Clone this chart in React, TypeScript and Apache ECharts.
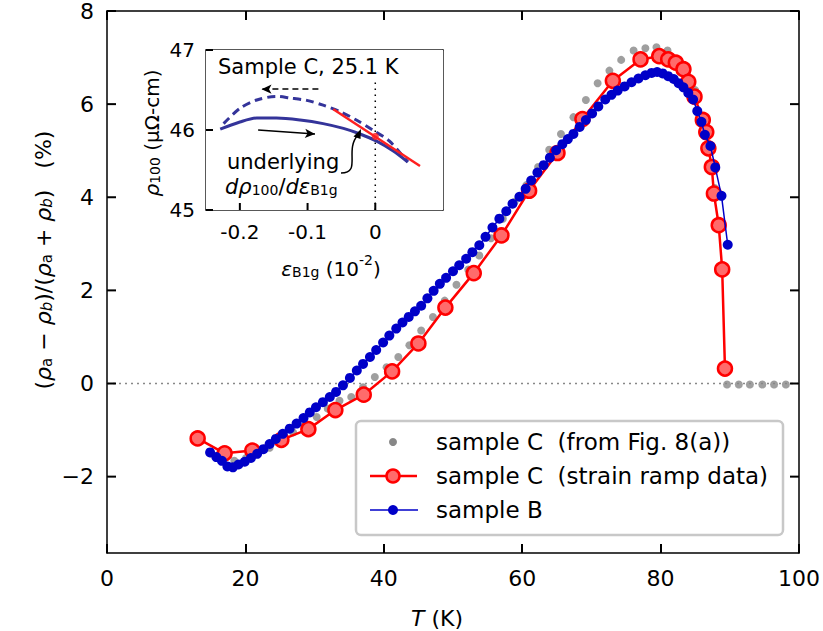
import React, { useEffect, useRef } from "react";
import * as echarts from "echarts";

const FONT = "DejaVu Sans";

// ---- axes ticks ----
const xTicks = [0, 20, 40, 60, 80, 100];
const yTicks = [-2, 0, 2, 4, 6, 8];
const insetXTicks = [-0.2, -0.1, 0];
const insetYTicks = [45, 46, 47];

// ---- main data: T (K), anisotropy (%) ----
const sampleCFig8: [number, number][] = [
  [15.0, -1.5], [16.7, -1.62], [18.4, -1.66], [20.1, -1.6], [21.8, -1.5], [23.5, -1.38],
  [25.2, -1.22], [26.9, -1.05], [28.6, -0.9], [30.3, -0.72], [31.9, -0.54], [33.6, -0.37],
  [35.3, -0.29], [37.0, -0.08], [38.7, 0.14], [40.4, 0.35], [42.1, 0.57], [43.7, 0.82],
  [45.4, 1.14], [47.1, 1.43], [48.8, 1.78], [50.5, 2.12], [52.2, 2.45], [53.8, 2.75],
  [55.5, 3.12], [57.2, 3.54], [58.9, 3.9], [60.6, 4.26], [62.3, 4.65], [63.9, 5.02],
  [65.6, 5.36], [67.4, 5.72], [69.2, 6.09], [70.9, 6.45], [72.6, 6.72], [74.3, 6.95],
  [76.1, 7.15], [77.8, 7.2], [79.4, 7.22], [81.0, 7.15], [82.5, 6.95], [83.8, 6.7],
  [85.0, 6.3], [86.0, 5.7], [87.0, 5.0], [87.8, 4.2],
  [89.6, -0.02], [91.3, -0.02], [92.9, -0.02], [94.7, -0.02], [96.4, -0.02], [98.1, -0.02],
];

const sampleCRamp: [number, number][] = [
  [13.1, -1.18], [17.0, -1.5], [21.0, -1.44], [25.2, -1.21], [29.1, -0.98], [33.0, -0.57],
  [37.1, -0.24], [41.2, 0.26], [45.0, 0.86], [48.9, 1.63], [53.0, 2.37], [57.0, 3.18],
  [61.0, 4.14], [65.1, 4.95], [68.7, 5.68], [73.1, 6.5], [77.1, 6.96], [79.8, 7.03],
  [81.1, 6.96], [82.2, 6.89], [83.3, 6.75], [84.0, 6.48], [84.9, 6.16], [86.1, 5.66],
  [86.6, 5.4], [86.9, 5.05], [87.4, 4.65], [87.7, 4.08], [88.4, 3.4], [88.9, 2.45],
  [89.3, 0.32],
];

const sampleB: [number, number][] = [
  [14.9, -1.48], [15.8, -1.58], [16.6, -1.66], [17.4, -1.78], [18.2, -1.8], [19.0, -1.74],
  [19.9, -1.68], [20.8, -1.6], [21.7, -1.51], [22.6, -1.41], [23.5, -1.3], [24.4, -1.19],
  [25.4, -1.08], [26.4, -0.97], [27.4, -0.86], [28.4, -0.74], [29.3, -0.62], [30.2, -0.51],
  [31.2, -0.4], [32.2, -0.29], [33.1, -0.18], [34.1, -0.04], [35.1, 0.12], [36.1, 0.28],
  [37.0, 0.42], [38.0, 0.57], [38.9, 0.72], [39.9, 0.88], [40.8, 1.03], [41.8, 1.18],
  [42.7, 1.31], [43.6, 1.43], [44.5, 1.55], [45.4, 1.67], [46.3, 1.83], [47.2, 1.99],
  [48.1, 2.14], [49.0, 2.27], [50.0, 2.41], [50.9, 2.54], [51.9, 2.68], [52.8, 2.82],
  [53.8, 2.97], [54.7, 3.15], [55.7, 3.35], [56.7, 3.54], [57.7, 3.7], [58.6, 3.86],
  [59.6, 4.01], [60.5, 4.18], [61.3, 4.36], [62.2, 4.53], [63.1, 4.69], [64.0, 4.85],
  [64.9, 5.01], [65.8, 5.14], [66.6, 5.25], [67.4, 5.36], [68.3, 5.51], [69.2, 5.66],
  [70.1, 5.8], [71.0, 5.95], [72.0, 6.1], [72.9, 6.2], [73.8, 6.29], [74.8, 6.38],
  [75.8, 6.47], [76.8, 6.55], [77.8, 6.62], [78.7, 6.67], [79.5, 6.69], [80.3, 6.66],
  [81.1, 6.6], [81.9, 6.54], [82.6, 6.45], [83.3, 6.36], [84.0, 6.24], [84.7, 6.1],
  [85.3, 5.85], [85.9, 5.62], [86.4, 5.34], [87.2, 5.1], [87.9, 4.64], [88.8, 4.03],
  [89.7, 2.98],
];

const zeroLine: [number, number][] = [[0, 0], [100, 0]];

// ---- inset data: strain (1e-2), rho100 (µΩ-cm) ----
const insetDashed: [number, number][] = [
  [-0.224, 46.08], [-0.2, 46.27], [-0.175, 46.375], [-0.146, 46.42], [-0.126, 46.4],
  [-0.101, 46.37], [-0.077, 46.31], [-0.052, 46.23], [-0.028, 46.125], [-0.004, 46.0],
  [0.021, 45.86], [0.048, 45.6],
];
const insetSolid: [number, number][] = [
  [-0.229, 46.01], [-0.2, 46.1], [-0.175, 46.15], [-0.146, 46.15], [-0.111, 46.125],
  [-0.077, 46.08], [-0.047, 46.02], [-0.0225, 45.95], [0.002, 45.86], [0.026, 45.74],
  [0.048, 45.6],
];
const insetTangent: [number, number][] = [[-0.062, 46.26], [0.066, 45.55]];
const insetPoint: [number, number][] = [[0, 45.92]];
const insetZeroStrain: [number, number][] = [[0, 45], [0, 46.6]];

const legendLabels = [
  "sample C  (from Fig. 8(a))",
  "sample C  (strain ramp data)",
  "sample B",
];

const minus = (v: number) => String(v).replace("-", "\u2212");

export default function App() {
  const ref = useRef<HTMLDivElement>(null);

  useEffect(() => {
    if (!ref.current) return;
    const chart = echarts.init(ref.current, undefined, { renderer: "svg" });

    const lbl = { color: "#000", fontFamily: FONT };
    const frameLine = { show: true, onZero: false, lineStyle: { color: "#000", width: 1.5 } };
    const insetLine = { show: true, onZero: false, lineStyle: { color: "#222", width: 1.5 } };
    const nativeTick = { show: true, inside: true, length: 9, lineStyle: { color: "#000", width: 2 } };

    const big = { fontFamily: FONT, fontSize: 22, lineHeight: 28, verticalAlign: "bottom", color: "#000" };
    const bigI = { ...big, fontStyle: "italic" };
    const sub = { fontFamily: FONT, fontSize: 15, lineHeight: 16, verticalAlign: "bottom", color: "#000" };
    const subI = { ...sub, fontStyle: "italic" };

    const med = { fontFamily: FONT, fontSize: 20, lineHeight: 26, verticalAlign: "bottom", color: "#000" };
    const medI = { ...med, fontStyle: "italic" };
    const msub = { fontFamily: FONT, fontSize: 14, lineHeight: 14, verticalAlign: "bottom", color: "#000" };
    const msubTop = { fontFamily: FONT, fontSize: 14, lineHeight: 14, verticalAlign: "top", color: "#000" };

    const graphicBase: any[] = [
      {
        type: "text", x: 40, y: 260, rotation: Math.PI / 2, z: 20,
        style: {
          text: "{n|(}{i|ρ}{s|a}{n| − }{i|ρ}{si|b}{n|)/(}{i|ρ}{s|a}{n| + }{i|ρ}{si|b}{n|)   (%)}",
          align: "center", verticalAlign: "middle",
          rich: { n: big, i: bigI, s: sub, si: subI },
        },
      },
      {
        type: "text", x: 437, y: 615, z: 20,
        style: { text: "{i|T}{n| (K)}", align: "center", verticalAlign: "middle", rich: { n: big, i: bigI } },
      },
      {
        type: "text", x: 149, y: 133, rotation: Math.PI / 2, z: 20,
        style: {
          text: "{i|ρ}{s|100}{n| (μΩ-cm)}", align: "center", verticalAlign: "middle",
          rich: { n: med, i: medI, s: msub },
        },
      },
      {
        type: "text", x: 331, y: 266, z: 20,
        style: {
          text: "{i|ε}{s|B1g}{n| (10}{p|-2}{n|)}", align: "center", verticalAlign: "middle",
          rich: { n: med, i: medI, s: msub, p: msubTop },
        },
      },
      {
        type: "text", x: 218, y: 67, z: 20,
        style: { text: "Sample C, 25.1 K", fontFamily: FONT, fontSize: 21, fill: "#000", align: "left", verticalAlign: "middle" },
      },
      {
        type: "text", x: 227, y: 162, z: 20,
        style: { text: "underlying", fontFamily: FONT, fontSize: 21, fill: "#000", align: "left", verticalAlign: "middle" },
      },
      {
        type: "text", x: 225, y: 184, z: 20,
        style: {
          text: "{i|dρ}{s|100}{n|/}{i|dε}{s|B1g}", align: "left", verticalAlign: "middle",
          rich: { n: { ...med, fontSize: 21 }, i: { ...medI, fontSize: 21 }, s: msub },
        },
      },
      {
        type: "bezierCurve", z: 20,
        shape: { x1: 341, y1: 173, cpx1: 362, cpy1: 173, cpx2: 344, cpy2: 150, x2: 358, y2: 135 },
        style: { stroke: "#000", lineWidth: 1.5, fill: null },
      },
      {
        type: "polygon", z: 20,
        shape: { points: [[361, 129], [353.5, 136.5], [360.5, 139]] },
        style: { fill: "#000" },
      },
      {
        type: "rect", z: 30,
        shape: { x: 356, y: 421, width: 427, height: 114, r: 5 },
        style: { fill: "#fff", stroke: "#c8c8c8", lineWidth: 2.5 },
      },
      { type: "circle", z: 31, shape: { cx: 393, cy: 442, r: 4 }, style: { fill: "#878787" } },
      { type: "line", z: 31, shape: { x1: 370, y1: 476, x2: 417, y2: 476 }, style: { stroke: "#ff0000", lineWidth: 2.5 } },
      { type: "circle", z: 32, shape: { cx: 393, cy: 476, r: 6.5 }, style: { fill: "#ff6b6b", stroke: "#ff0000", lineWidth: 2.5 } },
      { type: "line", z: 31, shape: { x1: 370, y1: 510, x2: 418, y2: 510 }, style: { stroke: "#0000c8", lineWidth: 1.5 } },
      { type: "circle", z: 32, shape: { cx: 393, cy: 510, r: 5 }, style: { fill: "#0000c8" } },
      ...legendLabels.map((t, i) => ({
        type: "text", z: 32, x: 436, y: 442 + i * 34,
        style: { text: t, fontFamily: FONT, fontSize: 23, fill: "#000", align: "left", verticalAlign: "middle" },
      })),
    ];

    const option: any = {
      animation: false,
      backgroundColor: "#fff",
      grid: [
        { left: 107, right: 23, top: 10, bottom: 78 },
        { left: 206, top: 50, width: 237, height: 160, show: true, borderWidth: 0, backgroundColor: "#fff", z: 5 },
      ],
      xAxis: [
        {
          gridIndex: 0, type: "value", position: "bottom", min: 0, max: 100, interval: 20,
          axisLine: frameLine, splitLine: { show: false }, axisTick: nativeTick,
          axisLabel: { ...lbl, fontSize: 22, margin: 14 },
        },
        {
          gridIndex: 0, type: "value", position: "top", min: 0, max: 100, interval: 20,
          axisLine: frameLine, splitLine: { show: false }, axisTick: nativeTick,
          axisLabel: { show: false },
        },
        {
          gridIndex: 1, type: "value", position: "bottom", min: -0.25, max: 0.1,
          axisLine: insetLine, splitLine: { show: false }, axisTick: { show: false },
          axisLabel: {
            ...lbl, fontSize: 20, margin: 12, customValues: insetXTicks,
            formatter: (v: number) => (Math.abs(v) < 1e-9 ? "0" : v.toFixed(1)),
          },
        },
        {
          gridIndex: 1, type: "value", position: "top", min: -0.25, max: 0.1,
          axisLine: insetLine, splitLine: { show: false },
          axisTick: { show: false }, axisLabel: { show: false },
        },
      ],
      yAxis: [
        {
          gridIndex: 0, type: "value", position: "left", min: -3.64, max: 8,
          axisLine: frameLine, splitLine: { show: false }, axisTick: { show: false },
          axisLabel: { ...lbl, fontSize: 22, margin: 13, customValues: yTicks, formatter: minus },
        },
        {
          gridIndex: 0, type: "value", position: "right", min: -3.64, max: 8,
          axisLine: frameLine, splitLine: { show: false },
          axisTick: { show: false }, axisLabel: { show: false },
        },
        {
          gridIndex: 1, type: "value", position: "left", min: 45, max: 47, interval: 1,
          axisLine: insetLine, splitLine: { show: false },
          axisTick: { ...nativeTick, length: 7 },
          axisLabel: { ...lbl, fontSize: 20, margin: 11 },
        },
        {
          gridIndex: 1, type: "value", position: "right", min: 45, max: 47, interval: 1,
          axisLine: insetLine, splitLine: { show: false },
          axisTick: { show: false }, axisLabel: { show: false },
        },
      ],
      series: [
        {
          type: "line", xAxisIndex: 0, yAxisIndex: 0, data: zeroLine, symbol: "none", silent: true, z: 2,
          lineStyle: { color: "#888", width: 1.5, type: [2, 4] },
        },
        {
          name: legendLabels[0], type: "scatter", xAxisIndex: 0, yAxisIndex: 0, data: sampleCFig8,
          symbolSize: 8, itemStyle: { color: "#878787" }, z: 3,
        },
        {
          name: legendLabels[1], type: "line", xAxisIndex: 0, yAxisIndex: 0, data: sampleCRamp,
          symbol: "circle", symbolSize: 14, showAllSymbol: true, z: 4,
          lineStyle: { color: "#ff0000", width: 2.5 },
          itemStyle: { color: "#ff6b6b", borderColor: "#ff0000", borderWidth: 2.5 },
        },
        {
          name: legendLabels[2], type: "line", xAxisIndex: 0, yAxisIndex: 0, data: sampleB,
          symbol: "circle", symbolSize: 10, showAllSymbol: true, z: 5,
          lineStyle: { color: "#0000c8", width: 1.5 },
          itemStyle: { color: "#0000c8" },
        },
        {
          type: "line", xAxisIndex: 2, yAxisIndex: 2, data: insetZeroStrain, symbol: "none", silent: true, z: 6,
          lineStyle: { color: "#000", width: 1.5, type: [1.5, 4.5] },
          markLine: {
            silent: true, symbol: ["none", "arrow"], symbolSize: [7, 10], label: { show: false },
            data: [
              [
                { coord: [-0.084, 46.51], lineStyle: { color: "#000", width: 1.5, type: [6, 4] } },
                { coord: [-0.168, 46.51], lineStyle: { color: "#000", width: 1.5, type: [6, 4] } },
              ],
              [
                { coord: [-0.173, 46.0], lineStyle: { color: "#000", width: 1.5, type: "solid" } },
                { coord: [-0.089, 45.95], lineStyle: { color: "#000", width: 1.5, type: "solid" } },
              ],
            ],
          },
        },
        {
          type: "line", xAxisIndex: 2, yAxisIndex: 2, data: insetDashed, symbol: "none", smooth: 0.3, z: 7,
          lineStyle: { color: "#34349a", width: 3, type: [8, 5] },
        },
        {
          type: "line", xAxisIndex: 2, yAxisIndex: 2, data: insetSolid, symbol: "none", smooth: 0.3, z: 7,
          lineStyle: { color: "#34349a", width: 3 },
        },
        {
          type: "line", xAxisIndex: 2, yAxisIndex: 2, data: insetTangent, symbol: "none", z: 8,
          lineStyle: { color: "#ff2020", width: 2.5 },
        },
        {
          type: "scatter", xAxisIndex: 2, yAxisIndex: 2, data: insetPoint, symbolSize: 7, z: 9,
          itemStyle: { color: "#ff2020" },
        },
      ],
      graphic: graphicBase,
    };

    chart.setOption(option);

    // extra tick marks positioned through the axes' own scales
    try {
      const mainFinder = { xAxisIndex: 0, yAxisIndex: 0 };
      const insetFinder = { xAxisIndex: 2, yAxisIndex: 2 };
      const tick = (x1: number, y1: number, x2: number, y2: number) => ({
        type: "line", z: 40, silent: true,
        shape: { x1, y1, x2, y2 },
        style: { stroke: "#000", lineWidth: 2 },
      });
      const ticks: any[] = [];
      yTicks.forEach((v) => {
        const l = chart.convertToPixel(mainFinder, [0, v]) as number[];
        const r = chart.convertToPixel(mainFinder, [100, v]) as number[];
        if (!l || !r) return;
        ticks.push(tick(l[0], l[1], l[0] + 9, l[1]));
        ticks.push(tick(r[0], r[1], r[0] - 9, r[1]));
      });
      insetXTicks.forEach((v) => {
        const b = chart.convertToPixel(insetFinder, [v, 45]) as number[];
        if (!b) return;
        ticks.push(tick(b[0], b[1], b[0], b[1] - 7));
      });
      insetYTicks.forEach((v) => {
        const l = chart.convertToPixel(insetFinder, [-0.25, v]) as number[];
        if (!l) return;
        ticks.push(tick(l[0], l[1], l[0] + 7, l[1]));
      });
      chart.setOption({ graphic: [...graphicBase, ...ticks] });
    } catch (e) {
      // ignore
    }

    return () => chart.dispose();
  }, []);

  return (
    <div
      ref={ref}
      style={{ position: "absolute", left: 0, top: 0, width: 823, height: 631 }}
    />
  );
}
